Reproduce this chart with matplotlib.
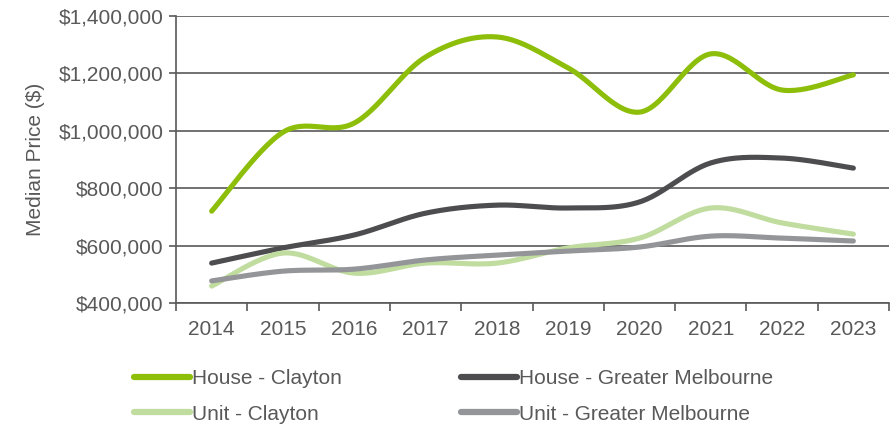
import numpy as np
import matplotlib
matplotlib.use("Agg")
import matplotlib.pyplot as plt
from matplotlib.ticker import FuncFormatter

years = ["2014", "2015", "2016", "2017", "2018", "2019", "2020", "2021", "2022", "2023"]
house_clayton = [720000, 995000, 1027000, 1257000, 1327000, 1219000, 1065000, 1268000, 1142000, 1195000]
house_melbourne = [539000, 592000, 637000, 713000, 741000, 731000, 752000, 888000, 905000, 870000]
unit_clayton = [459000, 574000, 504000, 539000, 539000, 592000, 626000, 731000, 679000, 640000]
unit_melbourne = [477000, 511000, 518000, 550000, 567000, 581000, 595000, 633000, 626000, 616000]

series = [
    ("House - Clayton", house_clayton, "#8dbe0a"),
    ("House - Greater Melbourne", house_melbourne, "#4d4d4f"),
    ("Unit - Clayton", unit_clayton, "#c0dc9e"),
    ("Unit - Greater Melbourne", unit_melbourne, "#939598"),
]

text_col = "#595959"
plt.rcParams["font.family"] = ["Liberation Sans", "DejaVu Sans"]


def smooth(x, y, n=30):
    # Catmull-Rom style bezier through every point
    x = np.asarray(x, float)
    y = np.asarray(y, float)
    px = np.concatenate([[x[0]], x, [x[-1]]])
    py = np.concatenate([[y[0]], y, [y[-1]]])
    xs, ys = [], []
    t = np.linspace(0, 1, n)
    for i in range(1, len(x)):
        p0 = np.array([px[i], py[i]])
        p3 = np.array([px[i + 1], py[i + 1]])
        c1 = p0 + (p3 - np.array([px[i - 1], py[i - 1]])) / 6
        c2 = p3 - (np.array([px[i + 2], py[i + 2]]) - p0) / 6
        b = ((1 - t) ** 3)[:, None] * p0 + (3 * (1 - t) ** 2 * t)[:, None] * c1 \
            + (3 * (1 - t) * t ** 2)[:, None] * c2 + (t ** 3)[:, None] * p3
        xs.append(b[:, 0])
        ys.append(b[:, 1])
    return np.concatenate(xs), np.concatenate(ys)


fig = plt.figure(figsize=(8.93, 4.30), dpi=100)
ax = fig.add_axes([176 / 893, 1 - 303 / 430, (889 - 176) / 893, (303 - 16) / 430])

xpos = np.arange(len(years))
handles = {}
for name, vals, col in series:
    sx, sy = smooth(xpos, vals)
    handles[name], = ax.plot(sx, sy, color=col, lw=3.7, solid_capstyle="round", label=name, zorder=3)

ax.set_xlim(-0.5, len(years) - 0.5)
ax.set_ylim(400000, 1400000)
ax.set_yticks(np.arange(400000, 1400001, 200000))
ax.yaxis.set_major_formatter(FuncFormatter(lambda v, p: "${:,.0f}".format(v)))
ax.set_xticks(xpos)
ax.set_xticklabels(years)
ax.set_xticks(np.arange(-0.5, len(years)), minor=True)

ax.grid(axis="y", color="#595959", lw=1.2, zorder=1)
for s in ["top", "right"]:
    ax.spines[s].set_visible(False)
for s in ["left", "bottom"]:
    ax.spines[s].set_color("#595959")
    ax.spines[s].set_linewidth(1.2)

ax.tick_params(axis="y", colors=text_col, labelsize=15, length=5, width=1.2, pad=4)
ax.tick_params(axis="y", color="#595959")
ax.tick_params(axis="x", which="major", length=0, labelsize=15, labelcolor=text_col, pad=12)
ax.tick_params(axis="x", which="minor", length=6, width=1.2, color="#595959")

ax.set_ylabel("Median Price ($)", fontsize=15, color=text_col, labelpad=10)

# legend filled column by column, so order gives two rows: houses, then units
order = ["House - Clayton", "Unit - Clayton", "House - Greater Melbourne", "Unit - Greater Melbourne"]
leg = fig.legend([handles[k] for k in order], order, loc="upper left",
                 bbox_to_anchor=(134 / 893, 1 - 369 / 430), ncol=2,
                 frameon=False, fontsize=15, handlelength=2.7, handletextpad=0.1,
                 columnspacing=5.7, borderpad=0, borderaxespad=0, labelspacing=0.8)
for t in leg.get_texts():
    t.set_color(text_col)
for l in leg.get_lines():
    l.set_linewidth(4.5)

fig.savefig("out.png", dpi=100)
